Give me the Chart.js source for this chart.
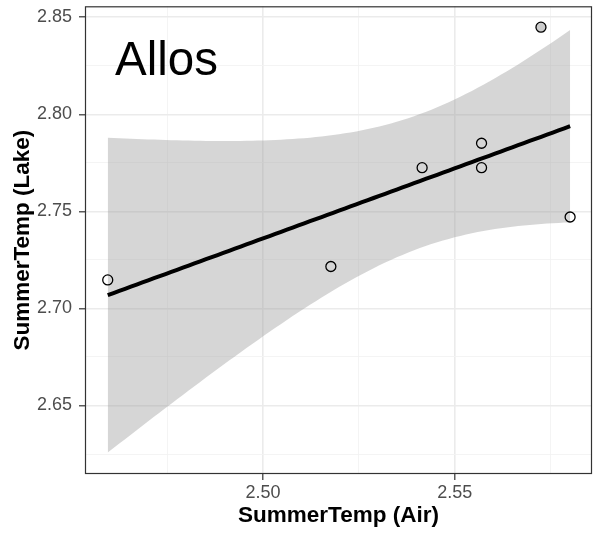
<!DOCTYPE html>
<html>
<head>
<meta charset="utf-8">
<script src="https://cdn.jsdelivr.net/npm/chart.js@4/dist/chart.umd.min.js"></script>
<style>
  html, body { margin: 0; padding: 0; background: #ffffff; }
  canvas { display: block; }
</style>
</head>
<body>
<canvas id="chart" width="601" height="533"></canvas>
<script>
// Observed summer temperatures (log scale) for the Allos site
const airTemp  = [2.4595, 2.5177, 2.5415, 2.5570, 2.5570, 2.5801, 2.5725];
const lakeTemp = [2.7147, 2.7216, 2.7725, 2.7851, 2.7725, 2.7471, 2.8449];

// Axis ticks
const xMajorTicks = [2.50, 2.55];
const xMinorTicks = [2.475, 2.525, 2.575];
const yMajorTicks = [2.65, 2.70, 2.75, 2.80, 2.85];
const yMinorTicks = [2.625, 2.675, 2.725, 2.775, 2.825];

// Texts
const panelLabel = 'Allos';
const xTitle = 'SummerTemp (Air)';
const yTitle = 'SummerTemp (Lake)';

// Axis limits and label anchor (data units)
const xLimits = [2.45357, 2.58581];
const yLimits = [2.61470, 2.85565];
const labelAnchor = [2.4614, 2.8202];

// 97.5% quantile of Student's t with n - 2 = 5 degrees of freedom
const T_QUANTILE = 2.570582;

const FONT = "'Liberation Sans', Arial, Helvetica, sans-serif";

// Ordinary least squares fit with a 95% confidence band, evaluated on 80 steps
function linearFit(xs, ys, tq, steps) {
  const n = xs.length;
  const mx = xs.reduce((a, b) => a + b, 0) / n;
  const my = ys.reduce((a, b) => a + b, 0) / n;
  let sxx = 0, sxy = 0;
  for (let i = 0; i < n; i++) {
    sxx += (xs[i] - mx) ** 2;
    sxy += (xs[i] - mx) * (ys[i] - my);
  }
  const slope = sxy / sxx;
  const intercept = my - slope * mx;
  let sse = 0;
  for (let i = 0; i < n; i++) sse += (ys[i] - intercept - slope * xs[i]) ** 2;
  const s = Math.sqrt(sse / (n - 2));
  const lo = Math.min(...xs), hi = Math.max(...xs);
  const fit = [], upper = [], lower = [];
  for (let k = 0; k <= steps; k++) {
    const x = lo + (hi - lo) * k / steps;
    const yHat = intercept + slope * x;
    const half = tq * s * Math.sqrt(1 / n + (x - mx) ** 2 / sxx);
    fit.push({ x, y: yHat });
    upper.push({ x, y: yHat + half });
    lower.push({ x, y: yHat - half });
  }
  return { fit, upper, lower };
}

const model = linearFit(airTemp, lakeTemp, T_QUANTILE, 80);
const observations = airTemp.map((x, i) => ({ x, y: lakeTemp[i] }));

const isIn = (v, list) => list.some(t => Math.abs(t - v) < 1e-9);
const allX = [...xMinorTicks, ...xMajorTicks].sort((a, b) => a - b);
const allY = [...yMinorTicks, ...yMajorTicks].sort((a, b) => a - b);

function gridColor(majors) {
  return ctx => (ctx.tick && isIn(ctx.tick.value, majors)) ? '#EBEBEB' : '#F3F3F3';
}
function gridWidth(majors) {
  return ctx => (ctx.tick && isIn(ctx.tick.value, majors)) ? 1.6 : 0.9;
}
function tickColor(majors) {
  return ctx => (ctx.tick && isIn(ctx.tick.value, majors)) ? '#333333' : 'rgba(0,0,0,0)';
}

// Panel border and in-panel site label
const panelPlugin = {
  id: 'panelDecor',
  afterDatasetsDraw(chart) {
    const { ctx, scales } = chart;
    ctx.save();
    ctx.fillStyle = '#000000';
    ctx.font = `47.5px ${FONT}`;
    ctx.textAlign = 'left';
    ctx.textBaseline = 'alphabetic';
    ctx.fillText(panelLabel, scales.x.getPixelForValue(labelAnchor[0]), scales.y.getPixelForValue(labelAnchor[1]));
    ctx.restore();
  },
  afterDraw(chart) {
    const { ctx, chartArea: a } = chart;
    ctx.save();
    ctx.strokeStyle = '#333333';
    ctx.lineWidth = 1.2;
    ctx.strokeRect(a.left + 0.5, a.top + 0.5, a.right - a.left - 1, a.bottom - a.top - 1);
    ctx.restore();
  }
};

new Chart(document.getElementById('chart'), {
  type: 'line',
  data: {
    datasets: [
      {
        label: 'upper',
        data: model.upper,
        order: 3,
        fill: '+1',
        backgroundColor: 'rgba(153,153,153,0.4)',
        borderWidth: 0,
        borderColor: 'rgba(0,0,0,0)',
        pointRadius: 0,
        tension: 0
      },
      {
        label: 'lower',
        data: model.lower,
        order: 4,
        fill: false,
        borderWidth: 0,
        borderColor: 'rgba(0,0,0,0)',
        pointRadius: 0,
        tension: 0
      },
      {
        label: 'fit',
        data: model.fit,
        order: 2,
        fill: false,
        borderColor: '#000000',
        borderWidth: 4,
        borderCapStyle: 'butt',
        pointRadius: 0,
        tension: 0
      },
      {
        label: 'observed',
        data: observations,
        order: 1,
        showLine: false,
        pointRadius: 5,
        pointBorderWidth: 1.3,
        pointBorderColor: '#000000',
        pointBackgroundColor: ['rgba(0,0,0,0)', 'rgba(0,0,0,0)', 'rgba(0,0,0,0)', 'rgba(0,0,0,0)', 'rgba(0,0,0,0)', 'rgba(0,0,0,0)', '#CCCCCC']
      }
    ]
  },
  options: {
    responsive: false,
    animation: false,
    events: [],
    layout: { padding: { top: 5, right: 9, left: 0, bottom: 0 } },
    plugins: { legend: { display: false }, tooltip: { enabled: false } },
    scales: {
      x: {
        type: 'linear',
        min: xLimits[0],
        max: xLimits[1],
        afterBuildTicks: s => { s.ticks = allX.map(v => ({ value: v })); },
        afterFit: s => { s.height = 59; s.paddingLeft = 0; s.paddingRight = 0; },
        border: { display: false },
        grid: {
          color: gridColor(xMajorTicks),
          lineWidth: gridWidth(xMajorTicks),
          tickColor: tickColor(xMajorTicks),
          tickWidth: 1.2,
          tickLength: 6,
          drawTicks: true
        },
        ticks: {
          autoSkip: false,
          maxRotation: 0,
          padding: 2,
          color: '#4D4D4D',
          font: { family: FONT, size: 18 },
          callback: v => isIn(v, xMajorTicks) ? v.toFixed(2) : ''
        },
        title: {
          display: true,
          text: xTitle,
          color: '#000000',
          font: { family: FONT, size: 22.5, weight: 'bold' },
          padding: { top: 0, bottom: 4 }
        }
      },
      y: {
        type: 'linear',
        min: yLimits[0],
        max: yLimits[1],
        afterBuildTicks: s => { s.ticks = allY.map(v => ({ value: v })); },
        afterFit: s => { s.width = 85; s.paddingTop = 0; s.paddingBottom = 0; },
        border: { display: false },
        grid: {
          color: gridColor(yMajorTicks),
          lineWidth: gridWidth(yMajorTicks),
          tickColor: tickColor(yMajorTicks),
          tickWidth: 1.2,
          tickLength: 6,
          drawTicks: true
        },
        ticks: {
          autoSkip: false,
          padding: 7,
          color: '#4D4D4D',
          font: { family: FONT, size: 18 },
          callback: v => isIn(v, yMajorTicks) ? v.toFixed(2) : ''
        },
        title: {
          display: true,
          text: yTitle,
          color: '#000000',
          font: { family: FONT, size: 22.5, weight: 'bold' },
          padding: { top: 9, bottom: 0 }
        }
      }
    }
  },
  plugins: [panelPlugin]
});
</script>
</body>
</html>
